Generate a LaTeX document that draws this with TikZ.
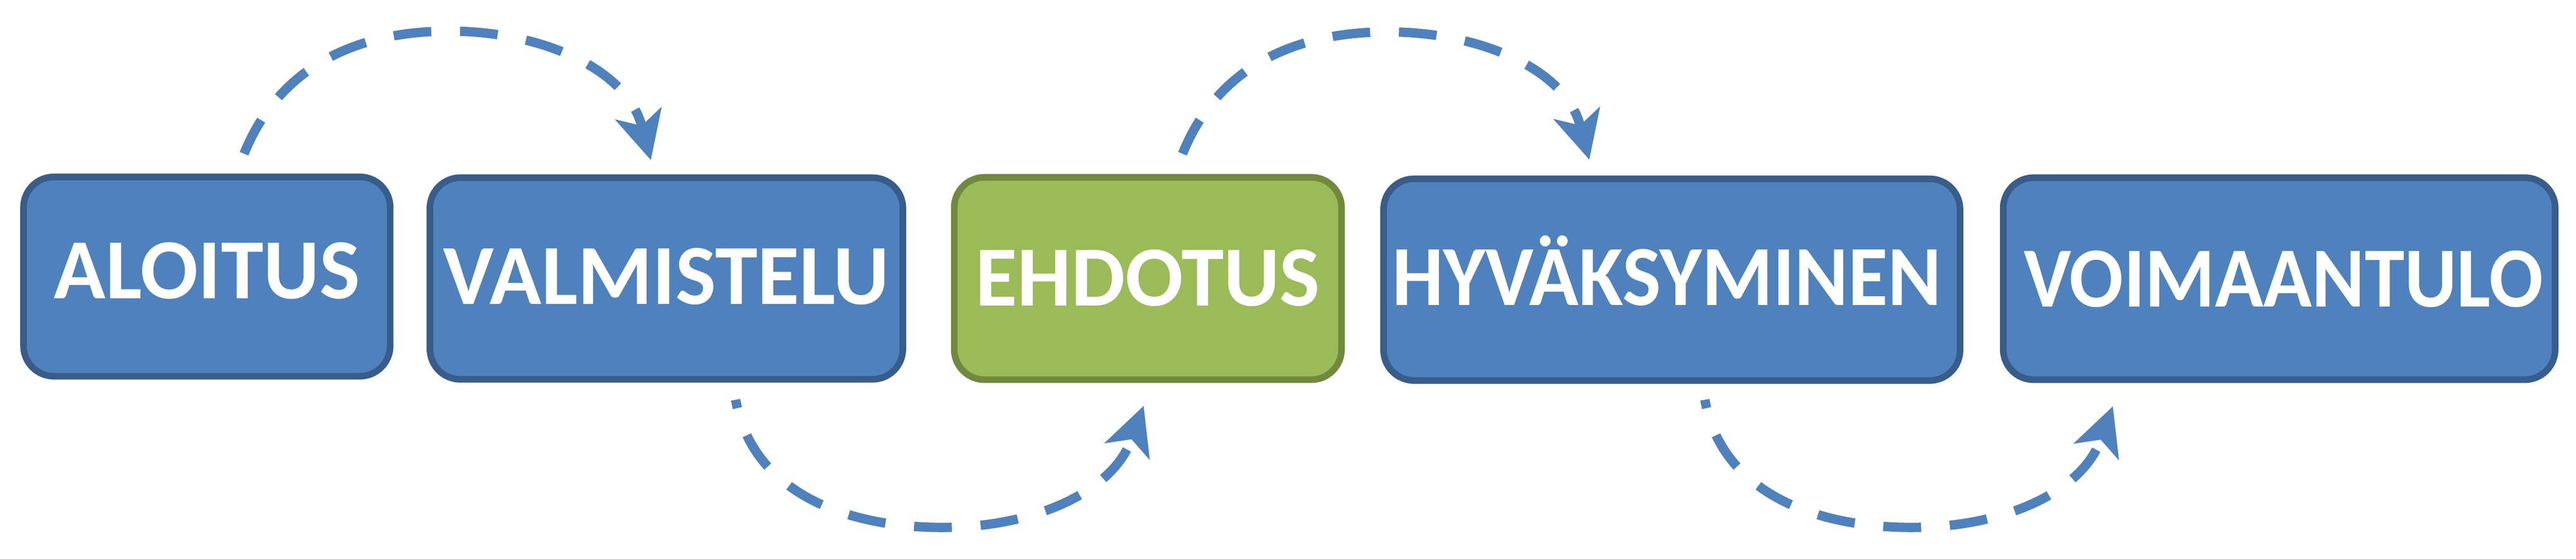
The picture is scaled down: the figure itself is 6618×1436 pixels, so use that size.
\documentclass[tikz,border=0pt]{standalone}
\usepackage{fontspec}
\setmainfont{Carlito}
\usetikzlibrary{arrows.meta}
\definecolor{boxblue}{HTML}{4F81BD}
\definecolor{boxblueline}{HTML}{385D8A}
\definecolor{boxgreen}{HTML}{9BBB59}
\definecolor{boxgreenline}{HTML}{71893F}
\definecolor{arrowblue}{HTML}{4F81BD}
\tikzset{
  stage/.style={rectangle, rounded corners=7.8pt, line width=1.7pt,
    draw=boxblueline, fill=boxblue, text=white,
    font=\bfseries\fontsize{22pt}{26pt}\selectfont,
    inner sep=0pt, outer sep=0pt, text height=15pt},
  stagegreen/.style={stage, draw=boxgreenline, fill=boxgreen},
  flow/.style={draw=arrowblue, line width=2.4pt, line cap=butt,
    dash pattern=on 9.7pt off 7.4pt,
    -{Stealth[length=12.5pt,width=12.5pt,inset=3.4pt,line width=0pt]}},
  flowlow/.style={flow, dash phase=7.5pt},
}
\begin{document}
\begin{tikzpicture}[x=0.1pt,y=-0.1pt]
\useasboundingbox (0,0) rectangle (6618,1436);
\node[stage, minimum width=94.2pt, minimum height=51.2pt, text depth=3.7pt] (b1) at (531.4,710.5) {ALOITUS};
\node[stage, minimum width=121.5pt, minimum height=51.8pt, text depth=1.9pt] (b2) at (1712,715.5) {VALMISTELU};
\node[stagegreen, minimum width=99.5pt, minimum height=52pt, text depth=1.1pt] (b3) at (2949,715.5) {EHDOTUS};
\node[stage, minimum width=148.1pt, minimum height=51.8pt, text depth=1.9pt] (b4) at (4295,718.5) {\scalebox{0.95}[1]{HYVÄKSYMINEN}\hspace*{2.6pt}};
\node[stage, minimum width=141.8pt, minimum height=51.9pt, text depth=0.6pt] (b5) at (5855.5,716) {\hspace*{2.2pt}\scalebox{0.935}[1]{VOIMAANTULO}};
% top arcs
\coordinate (a1s) at (627,395);
\coordinate (a1m) at (1154,80);
\coordinate (a1e) at (1672,411);
\draw[flow] (a1s) to[out=68,in=180] (a1m) to[out=0,in=105] (a1e);
\coordinate (a3s) at (3038,395);
\coordinate (a3m) at (3565,82);
\coordinate (a3e) at (4083,410);
\draw[flow] (a3s) to[out=68,in=180] (a3m) to[out=0,in=105] (a3e);
% bottom arcs
\coordinate (a2s) at (1890,1027);
\coordinate (a2m) at (2420,1355);
\coordinate (a2e) at (2938,1043);
\draw[flowlow] (a2s) to[out=280,in=180] (a2m) to[out=0,in=250] (a2e);
\coordinate (a4s) at (4380,1027);
\coordinate (a4m) at (4910,1355);
\coordinate (a4e) at (5428,1044);
\draw[flowlow] (a4s) to[out=280,in=180] (a4m) to[out=0,in=250] (a4e);
\end{tikzpicture}
\end{document}
